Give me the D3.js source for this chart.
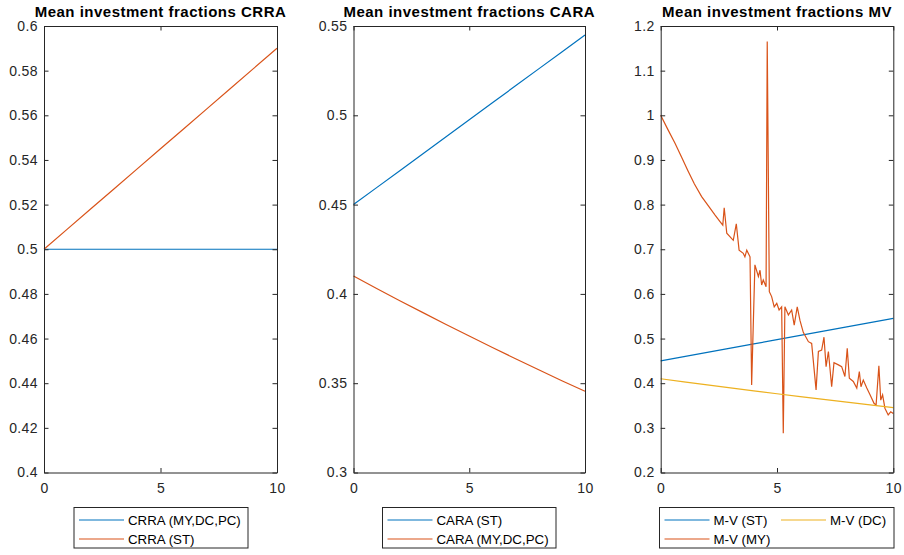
<!DOCTYPE html>
<html>
<head>
<meta charset="utf-8">
<script src="https://cdn.jsdelivr.net/npm/d3@7"></script>
<style>
  body { margin: 0; background: #fff; }
  svg { display: block; font-family: Arial, "Liberation Sans", Helvetica, sans-serif; }
  .tick text { fill: #262626; font-size: 14px; letter-spacing: 0.4px; }
  .tick line, .domain { stroke: #262626; }
</style>
</head>
<body>
<svg id="chart" width="904" height="555"></svg>
<script>
// ---- data ----
const tGrid = [0, 1, 2, 3, 4, 5, 6, 7, 8, 9, 10];

const crraMulti = [0.5, 0.5, 0.5, 0.5, 0.5, 0.5, 0.5, 0.5, 0.5, 0.5, 0.5];
const crraST = [0.5, 0.509, 0.518, 0.527, 0.536, 0.545, 0.554, 0.563, 0.572, 0.581, 0.59];

const caraST = [0.45, 0.4595, 0.469, 0.4785, 0.488, 0.4975, 0.507, 0.5165, 0.526, 0.5355, 0.545];
const caraMulti = [0.41, 0.403, 0.3962, 0.3895, 0.3829, 0.3764, 0.37, 0.3637, 0.3575, 0.3514, 0.3455];

const mvST = [0.45, 0.4595, 0.469, 0.4785, 0.488, 0.4975, 0.507, 0.5165, 0.526, 0.5355, 0.545];
const mvDC = [0.41, 0.403, 0.3962, 0.3895, 0.3829, 0.3764, 0.37, 0.3637, 0.3575, 0.3514, 0.3455];

const mvMYt = [0, 0.3, 0.61, 0.9, 1.17, 1.45, 1.76, 2.05, 2.33, 2.55, 2.67, 2.73, 2.84, 3.12, 3.25,
  3.37, 3.55, 3.62, 3.7, 3.84, 3.91, 4.05, 4.2, 4.27, 4.34, 4.41, 4.53, 4.58, 4.67, 4.77, 4.88,
  4.99, 5.09, 5.2, 5.27, 5.34, 5.49, 5.63, 5.74, 5.87, 5.99, 6.13, 6.35, 6.49, 6.68, 6.78, 6.92,
  7.02, 7.11, 7.21, 7.35, 7.45, 7.64, 7.78, 7.92, 8.02, 8.11, 8.28, 8.43, 8.54, 8.61, 8.71, 8.86,
  9.0, 9.17, 9.26, 9.38, 9.46, 9.54, 9.64, 9.78, 9.89, 10];
const mvMY = [1.0, 0.969, 0.938, 0.906, 0.876, 0.846, 0.818, 0.797, 0.777, 0.762, 0.754, 0.793, 0.736, 0.72, 0.757,
  0.698, 0.691, 0.683, 0.698, 0.683, 0.396, 0.665, 0.639, 0.653, 0.62, 0.631, 0.616, 1.165, 0.605, 0.594, 0.571,
  0.579, 0.564, 0.571, 0.288, 0.571, 0.553, 0.564, 0.53, 0.571, 0.54, 0.514, 0.493, 0.489, 0.385, 0.471, 0.474,
  0.503, 0.437, 0.471, 0.392, 0.446, 0.441, 0.437, 0.415, 0.478, 0.411, 0.404, 0.389, 0.426, 0.392, 0.407, 0.389,
  0.374, 0.355, 0.351, 0.439, 0.362, 0.374, 0.344, 0.329, 0.336, 0.332];

const xTicks = [0, 5, 10];
const yTicks1 = [0.4, 0.42, 0.44, 0.46, 0.48, 0.5, 0.52, 0.54, 0.56, 0.58, 0.6];
const yTicks2 = [0.3, 0.35, 0.4, 0.45, 0.5, 0.55];
const yTicks3 = [0.2, 0.3, 0.4, 0.5, 0.6, 0.7, 0.8, 0.9, 1, 1.1, 1.2];

const blue = '#0072BD', orange = '#D95319', yellow = '#EDB120';

const panels = [
  {
    title: 'Mean investment fractions CRRA', left: 44, right: 277, yDomain: [0.4, 0.6], yTicks: yTicks1,
    series: [
      { name: 'CRRA (MY,DC,PC)', t: tGrid, v: crraMulti, color: blue },
      { name: 'CRRA (ST)', t: tGrid, v: crraST, color: orange }
    ],
    legend: { x: 74, w: 174, cols: 1 }
  },
  {
    title: 'Mean investment fractions CARA', left: 353.5, right: 585, yDomain: [0.3, 0.55], yTicks: yTicks2,
    series: [
      { name: 'CARA (ST)', t: tGrid, v: caraST, color: blue },
      { name: 'CARA (MY,DC,PC)', t: tGrid, v: caraMulti, color: orange }
    ],
    legend: { x: 382.5, w: 173.5, cols: 1 }
  },
  {
    title: 'Mean investment fractions MV', left: 660.7, right: 893.3, yDomain: [0.2, 1.2], yTicks: yTicks3,
    series: [
      { name: 'M-V (ST)', t: tGrid, v: mvST, color: blue },
      { name: 'M-V (MY)', t: mvMYt, v: mvMY, color: orange },
      { name: 'M-V (DC)', t: tGrid, v: mvDC, color: yellow }
    ],
    legend: { x: 659.5, w: 234.5, cols: 2 }
  }
];

const plotTop = 26, plotBottom = 472.5;
const svg = d3.select('#chart');
svg.append('rect').attr('width', 904).attr('height', 555).attr('fill', '#fff');

panels.forEach(p => {
  const x = d3.scaleLinear().domain([0, 10]).range([p.left, p.right]);
  const y = d3.scaleLinear().domain(p.yDomain).range([plotBottom, plotTop]);
  const g = svg.append('g');

  const line = d3.line().x(d => x(d[0])).y(d => y(d[1]));
  p.series.forEach(s => {
    g.append('path')
      .datum(s.t.map((t, i) => [t, s.v[i]]))
      .attr('fill', 'none')
      .attr('stroke', s.color)
      .attr('stroke-width', 1.2)
      .attr('d', line);
  });

  // axes (ticks inside, mirrored on top/right)
  const tl = 4.5;
  g.append('g').attr('transform', `translate(0,${plotBottom})`)
    .call(d3.axisBottom(x).tickValues(xTicks).tickSizeInner(-tl).tickSizeOuter(0).tickPadding(11).tickFormat(d3.format('d')));
  g.append('g').attr('transform', `translate(0,${plotTop})`)
    .call(d3.axisTop(x).tickValues(xTicks).tickSizeInner(-tl).tickSizeOuter(0).tickFormat(''));
  g.append('g').attr('transform', `translate(${p.left},0)`)
    .call(d3.axisLeft(y).tickValues(p.yTicks).tickSizeInner(-tl).tickSizeOuter(0).tickPadding(6).tickFormat(d => String(+d.toFixed(2))));
  g.append('g').attr('transform', `translate(${p.right},0)`)
    .call(d3.axisRight(y).tickValues(p.yTicks).tickSizeInner(-tl).tickSizeOuter(0).tickFormat(''));
  g.selectAll('.tick text').attr('font-family', null).attr('font-size', null);
  g.selectAll('.domain').attr('stroke-width', 1);

  // title
  g.append('text')
    .attr('x', (p.left + p.right) / 2)
    .attr('y', 17)
    .attr('text-anchor', 'middle')
    .attr('font-weight', 'bold')
    .attr('font-size', 15)
    .attr('letter-spacing', 0.5)
    .attr('fill', '#000')
    .text(p.title);

  // legend
  const lg = svg.append('g');
  const ly0 = 507.5, ly1 = 548;
  lg.append('rect')
    .attr('x', p.legend.x).attr('y', ly0)
    .attr('width', p.legend.w).attr('height', ly1 - ly0)
    .attr('fill', '#fff').attr('stroke', '#262626').attr('stroke-width', 1);
  p.series.forEach((s, i) => {
    const col = p.legend.cols === 2 ? (i === 2 ? 1 : 0) : 0;
    const row = p.legend.cols === 2 ? (i === 1 ? 1 : 0) : i;
    const lx = p.legend.x + 5 + col * 116.5;
    const ly = 520 + row * 19;
    lg.append('line')
      .attr('x1', lx).attr('x2', lx + 45)
      .attr('y1', ly).attr('y2', ly)
      .attr('stroke', s.color).attr('stroke-width', 1.2);
    lg.append('text')
      .attr('x', lx + 49).attr('y', ly + 4.5)
      .attr('font-size', 13.3)
      .attr('fill', '#000')
      .text(s.name);
  });
});
</script>
</body>
</html>
